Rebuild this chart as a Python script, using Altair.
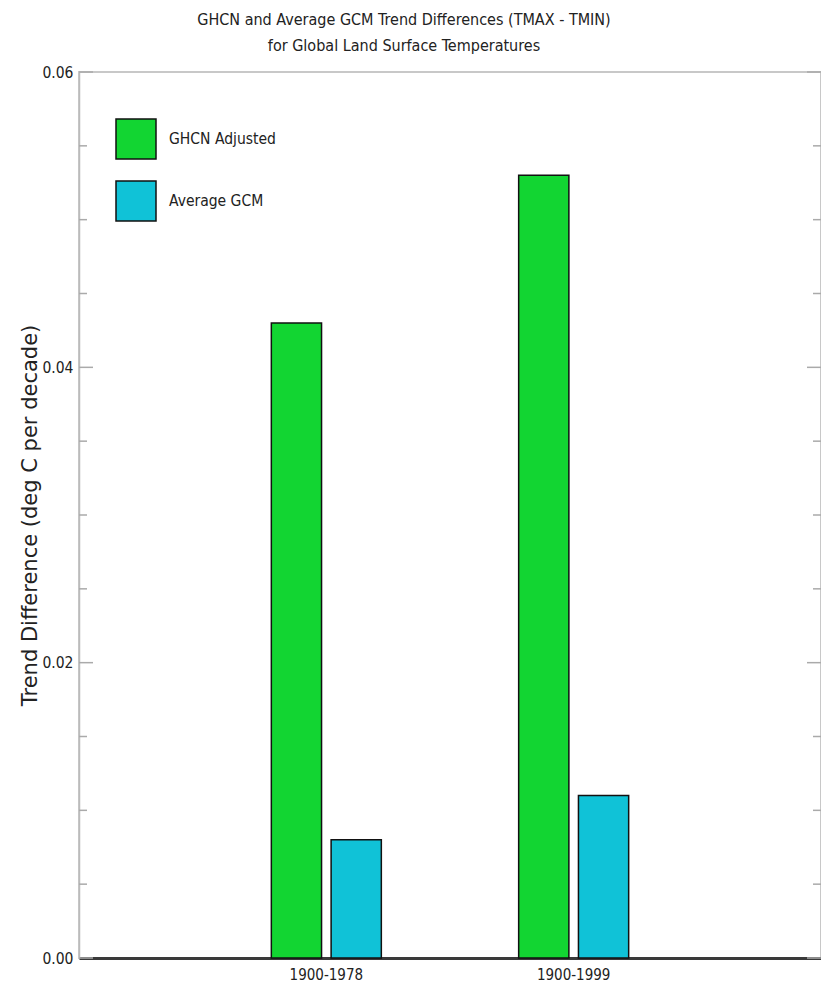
import altair as alt
import pandas as pd

periods = ["1900-1978", "1900-1999"]
series = ["GHCN Adjusted", "Average GCM"]
ghcn_values = [0.0430, 0.0530]
gcm_values = [0.0080, 0.0110]
colors = ["#12d532", "#10c2d7"]
major_ticks = [0.0, 0.02, 0.04, 0.06]
minor_ticks = [0.005, 0.01, 0.015, 0.025, 0.03, 0.035, 0.045, 0.05, 0.055]

rows = []
for i, p in enumerate(periods):
    rows.append({"period": p, "series": series[0], "value": ghcn_values[i]})
    rows.append({"period": p, "series": series[1], "value": gcm_values[i]})
df = pd.DataFrame(rows)

W, H = 742, 886
BAND = W / 3
NARROW = "DejaVu Sans Condensed, Liberation Sans Narrow, sans-serif"
TXT = "#222222"

yscale = alt.Scale(domain=[0, 0.06], nice=False, zero=True)
YTITLE = "Trend Difference (deg C per decade)"

bars = alt.Chart(df).mark_bar(stroke="#111111", strokeWidth=1.5).encode(
    x=alt.X(
        "period:N", sort=periods,
        scale=alt.Scale(paddingInner=0, paddingOuter=0.5),
        axis=alt.Axis(title=None, labelAngle=0, ticks=False, domainColor="#3a3a3a",
                      domainWidth=3, labelPadding=9, labelFont=NARROW, labelFontSize=15,
                      labelColor=TXT),
    ),
    xOffset=alt.XOffset("series:N", sort=series,
                        scale=alt.Scale(range=[BAND / 2 - 55, BAND / 2 + 55],
                                        paddingInner=0.16, paddingOuter=0)),
    y=alt.Y(
        "value:Q", scale=yscale, title=YTITLE,
        axis=alt.Axis(values=major_ticks, format=".2f", ticks=False, grid=False,
                      domainColor="#bbbbbb", domainWidth=1.5, labelPadding=6,
                      labelFont=NARROW, labelFontSize=15.5, labelColor=TXT,
                      title=YTITLE,
                      titleFont="DejaVu Sans", titleFontSize=21, titleFontWeight="normal",
                      titleColor=TXT, titleX=-49, titleY=H / 2, titleAngle=270,
                      titleAlign="center", titleBaseline="middle"),
    ),
    color=alt.Color(
        "series:N", sort=series,
        scale=alt.Scale(domain=series, range=colors),
        legend=alt.Legend(orient="none", legendX=36, legendY=46, title=None,
                          symbolType="square", symbolSize=1600, symbolStrokeColor="#111111",
                          symbolStrokeWidth=1.5, symbolOpacity=1, labelFont=NARROW,
                          labelFontSize=15.5, labelColor=TXT, labelOffset=12,
                          rowPadding=16, padding=0),
    ),
)

tick_color = "#aaaaaa"
major_df = pd.DataFrame({"v": major_ticks})
minor_df = pd.DataFrame({"v": minor_ticks})

def tick_layer(data, x1, x2):
    return alt.Chart(data).mark_rule(color=tick_color, strokeWidth=1.5).encode(
        y=alt.Y("v:Q", scale=yscale, title=YTITLE),
        x=alt.value(x1), x2=alt.value(x2),
    )

chart = alt.layer(
    bars,
    tick_layer(major_df, 0, 14),
    tick_layer(minor_df, 0, 8),
    tick_layer(major_df, W, W - 14),
    tick_layer(minor_df, W, W - 8),
).properties(
    width=W, height=H,
    autosize="none",
    padding={"left": 71, "top": 64, "right": 0, "bottom": 28},
    title=alt.Title(
        ["GHCN and Average GCM Trend Differences (TMAX - TMIN)",
         "for Global Land Surface Temperatures"],
        font=NARROW, fontSize=16, fontWeight="normal", color=TXT,
        anchor="middle", dx=-46, offset=11, lineHeight=26,
    ),
).configure_view(stroke="#c8c8c8", strokeWidth=2)

chart.save("out.html", embed_options={"renderer": "svg", "actions": False})
